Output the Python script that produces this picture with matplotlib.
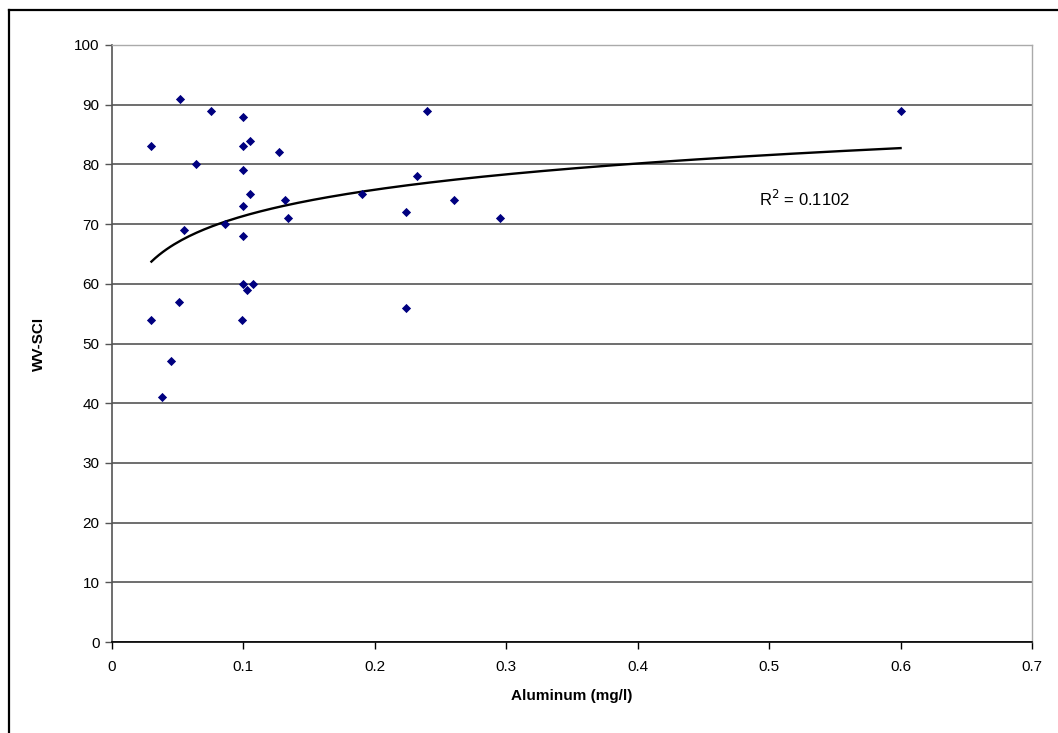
import numpy as np
import matplotlib
matplotlib.use("Agg")
import matplotlib.pyplot as plt
from matplotlib.lines import Line2D

plt.rcParams['font.family'] = ['Liberation Sans', 'DejaVu Sans']

# Data
aluminum = [0.052, 0.075, 0.100, 0.105, 0.100, 0.030, 0.127, 0.064,
            0.100, 0.105, 0.132, 0.100, 0.134, 0.055, 0.086, 0.100,
            0.100, 0.107, 0.103, 0.051, 0.030, 0.099, 0.045, 0.038,
            0.240, 0.232, 0.190, 0.260, 0.224, 0.295, 0.224, 0.600]
wvsci = [91, 89, 88, 84, 83, 83, 82, 80,
         79, 75, 74, 73, 71, 69, 70, 68,
         60, 60, 59, 57, 54, 54, 47, 41,
         89, 78, 75, 74, 72, 71, 56, 89]
r2_label = "R$^2$ = 0.1102"
x_ticks = [0, 0.1, 0.2, 0.3, 0.4, 0.5, 0.6, 0.7]
x_tick_labels = ["0", "0.1", "0.2", "0.3", "0.4", "0.5", "0.6", "0.7"]
y_ticks = list(range(0, 101, 10))

W, H = 1058, 733
fig = plt.figure(figsize=(W / 100, H / 100), dpi=100)
ax = fig.add_axes([112 / W, 1 - 642 / H, 920 / W, 597 / H])

x = np.array(aluminum)
y = np.array(wvsci)

# logarithmic trendline
a, b = np.polyfit(np.log(x), y, 1)
xt = np.linspace(x.min(), x.max(), 200)
ax.plot(xt, a * np.log(xt) + b, color='black', lw=1.7, zorder=3)

ax.scatter(x, y, marker='D', s=22, color='#000080', zorder=4, linewidths=0)

ax.set_xlim(0, 0.7)
ax.set_ylim(0, 100)
ax.set_xticks(x_ticks)
ax.set_xticklabels(x_tick_labels)
ax.set_yticks(y_ticks)
ax.yaxis.grid(True, color='#555555', lw=1.2)
ax.set_axisbelow(True)

for s in ['top', 'right']:
    ax.spines[s].set_color('#aaaaaa')
    ax.spines[s].set_linewidth(1.0)
ax.spines['left'].set_color('#555555')
ax.spines['left'].set_linewidth(1.2)
ax.spines['bottom'].set_color('black')
ax.spines['bottom'].set_linewidth(1.2)

ax.tick_params(axis='both', direction='out', length=5, width=1,
               labelsize=11, colors='black')
ax.tick_params(axis='y', pad=4, color='#555555')
ax.tick_params(axis='x', pad=8)

ax.set_xlabel("Aluminum (mg/l)", fontsize=11, fontweight='bold', labelpad=11)
ax.set_ylabel("WV-SCI", fontsize=11, fontweight='bold', labelpad=20)

ax.text(0.527, 74.2, r2_label, fontsize=12, ha='center', va='center')

# outer chart border (left and top visible)
fig.add_artist(Line2D([8.5 / W, 8.5 / W], [0, 1 - 9.5 / H], color='black', lw=1.6,
                      transform=fig.transFigure))
fig.add_artist(Line2D([8.5 / W, 1], [1 - 9.5 / H, 1 - 9.5 / H], color='black', lw=1.6,
                      transform=fig.transFigure))

fig.savefig("out.png", dpi=100)
